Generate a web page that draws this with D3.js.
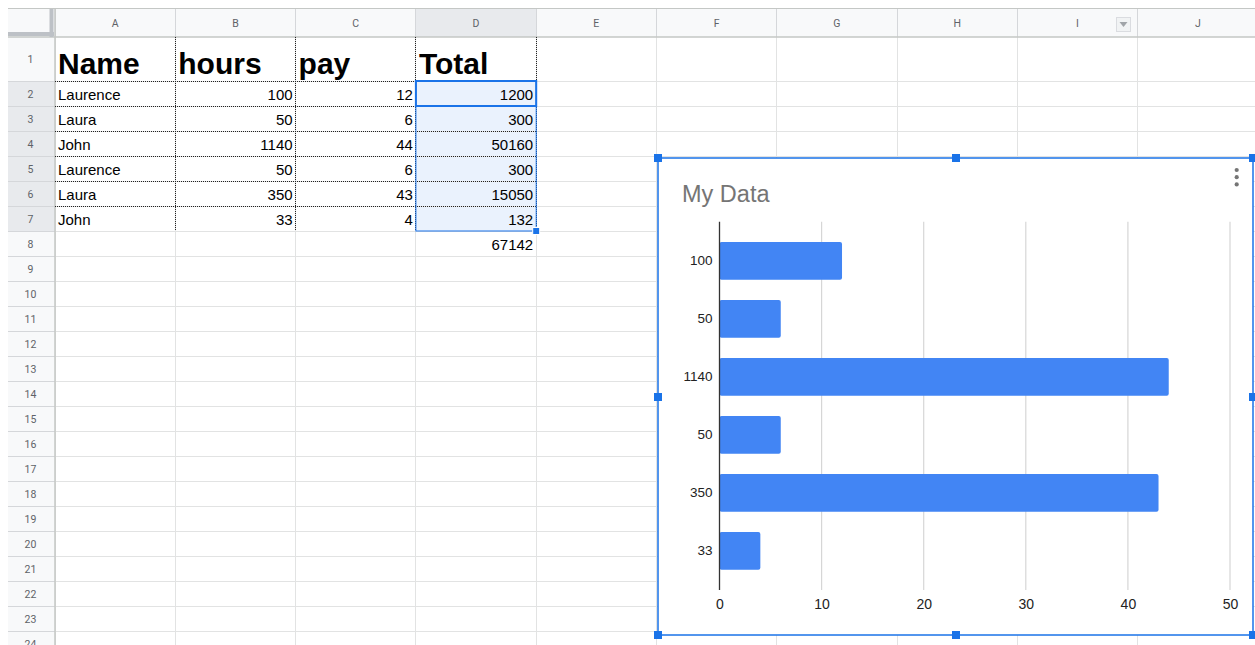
<!DOCTYPE html>
<html>
<head>
<meta charset="utf-8">
<script src="https://cdn.jsdelivr.net/npm/d3@7"></script>
<style>
  html, body { margin: 0; padding: 0; background: #fff; }
  svg { display: block; }
</style>
</head>
<body>
<svg id="c" width="1255" height="645"></svg>
<script>
// ---------- data ----------
const colLetters = ["A","B","C","D","E","F","G","H","I","J"];
const headers = ["Name","hours","pay","Total"];
const names = ["Laurence","Laura","John","Laurence","Laura","John"];
const hours = [100, 50, 1140, 50, 350, 33];
const pay = [12, 6, 44, 6, 43, 4];
const totals = [1200, 300, 50160, 300, 15050, 132];
const grandTotal = 67142;
const chartTitle = "My Data";
const xTicks = [0, 10, 20, 30, 40, 50];

// ---------- layout ----------
const W = 1255, H = 645;
const FONT = "'Liberation Sans', Arial, Helvetica, sans-serif";
const svg = d3.select("#c");

const gridLeft = 8, gridTop = 8, rowHeadRight = 55, headBottom = 37;
const colW = 120.3;
const colX = d3.scaleLinear().domain([0, 10]).range([rowHeadRight, rowHeadRight + 10 * colW]);
const rowTop = r => r === 1 ? headBottom : 81 + (r - 2) * 25;   // r = row number
const rowBottom = r => r === 1 ? 81 : rowTop(r) + 25;
const nRows = 24;

// backgrounds
svg.append("rect").attr("x", 0).attr("y", 0).attr("width", W).attr("height", H).attr("fill", "#fff");
svg.append("rect").attr("x", gridLeft).attr("y", gridTop).attr("width", W - gridLeft).attr("height", headBottom - gridTop).attr("fill", "#f8f9fa");
svg.append("rect").attr("x", gridLeft).attr("y", gridTop).attr("width", rowHeadRight - gridLeft).attr("height", H - gridTop).attr("fill", "#f8f9fa");
// selected column D header and rows 2-7 headers
svg.append("rect").attr("x", colX(3)).attr("y", gridTop).attr("width", colW).attr("height", headBottom - gridTop).attr("fill", "#e8eaed");
svg.append("rect").attr("x", gridLeft).attr("y", rowTop(2)).attr("width", rowHeadRight - gridLeft).attr("height", rowBottom(7) - rowTop(2)).attr("fill", "#e8eaed");

// selection fill
svg.append("rect").attr("x", colX(3)).attr("y", rowTop(2)).attr("width", colW).attr("height", rowBottom(7) - rowTop(2))
  .attr("fill", "rgba(26,115,232,0.09)");

// grid lines
const gl = svg.append("g").attr("stroke", "#e2e3e3").attr("stroke-width", 1).attr("shape-rendering", "crispEdges");
d3.range(0, 11).forEach(i => {
  gl.append("line").attr("x1", colX(i)).attr("x2", colX(i)).attr("y1", headBottom).attr("y2", H);
  gl.append("line").attr("x1", colX(i)).attr("x2", colX(i)).attr("y1", gridTop).attr("y2", headBottom).attr("stroke", "#d5d7da");
});
d3.range(1, nRows + 1).forEach(r => {
  gl.append("line").attr("x1", rowHeadRight).attr("x2", W).attr("y1", rowBottom(r)).attr("y2", rowBottom(r));
  gl.append("line").attr("x1", gridLeft).attr("x2", rowHeadRight).attr("y1", rowBottom(r)).attr("y2", rowBottom(r)).attr("stroke", "#d5d7da");
});
// header borders
svg.append("line").attr("x1", gridLeft).attr("x2", W).attr("y1", gridTop + 0.5).attr("y2", gridTop + 0.5).attr("stroke", "#c4c7c5");
svg.append("line").attr("x1", gridLeft).attr("x2", W).attr("y1", headBottom).attr("y2", headBottom).attr("stroke", "#c4c7c5").attr("stroke-width", 1.5);
svg.append("line").attr("x1", rowHeadRight).attr("x2", rowHeadRight).attr("y1", gridTop).attr("y2", H).attr("stroke", "#c4c7c5").attr("stroke-width", 1.5);
// frozen-corner bars
svg.append("rect").attr("x", gridLeft).attr("y", 32).attr("width", 46).attr("height", 4).attr("fill", "#bdc1c6");
svg.append("rect").attr("x", 49.5).attr("y", gridTop + 1).attr("width", 4).attr("height", 28).attr("fill", "#bdc1c6");

// column header letters
svg.append("g").selectAll("text").data(colLetters).join("text")
  .attr("x", (d, i) => colX(i) + colW / 2).attr("y", 26.5)
  .attr("text-anchor", "middle").attr("font-family", "Roboto, " + FONT).attr("font-size", 10.5)
  .attr("fill", "#5f6368").text(d => d);
// row numbers
svg.append("g").selectAll("text").data(d3.range(1, nRows + 1)).join("text")
  .attr("x", 30.5).attr("y", r => (rowTop(r) + rowBottom(r)) / 2 + 4)
  .attr("text-anchor", "middle").attr("font-family", "Roboto, " + FONT).attr("font-size", 10.5)
  .attr("fill", "#5f6368").text(r => r);

// filter icon on column I
const fi = svg.append("g");
fi.append("rect").attr("x", 1116.5).attr("y", 17.5).attr("width", 14).attr("height", 14).attr("fill", "#f1f3f4").attr("stroke", "#dadce0");
fi.append("path").attr("d", "M1119.5,22 L1127.5,22 L1123.5,27 Z").attr("fill", "#a0a4a8");

// dotted borders around A1:D7
const dot = svg.append("g").attr("stroke", "#222").attr("stroke-width", 1).attr("stroke-dasharray", "1,1").attr("shape-rendering", "crispEdges");
[1, 2, 3, 4].forEach(i => dot.append("line").attr("x1", colX(i)).attr("x2", colX(i)).attr("y1", rowTop(1)).attr("y2", rowBottom(7)));
d3.range(1, 7).forEach(r => dot.append("line").attr("x1", colX(0)).attr("x2", colX(4)).attr("y1", rowBottom(r)).attr("y2", rowBottom(r)));

// cell text
const cellFont = 15;
headers.forEach((h, i) => {
  svg.append("text").attr("x", colX(i) + 3).attr("y", rowTop(1) + 37)
    .attr("font-family", FONT).attr("font-weight", "bold").attr("font-size", 30).attr("fill", "#000").text(h);
});
const rowsG = svg.append("g").attr("font-family", FONT).attr("font-size", cellFont).attr("fill", "#000");
names.forEach((n, k) => {
  const r = k + 2, y = rowTop(r) + 19;
  rowsG.append("text").attr("x", colX(0) + 3).attr("y", y).text(n);
  rowsG.append("text").attr("x", colX(2) - 3).attr("y", y).attr("text-anchor", "end").text(hours[k]);
  rowsG.append("text").attr("x", colX(3) - 3).attr("y", y).attr("text-anchor", "end").text(pay[k]);
  rowsG.append("text").attr("x", colX(4) - 3).attr("y", y).attr("text-anchor", "end").text(totals[k]);
});
rowsG.append("text").attr("x", colX(4) - 3).attr("y", rowTop(8) + 19).attr("text-anchor", "end").text(grandTotal);

// selection borders
svg.append("rect").attr("x", colX(3)).attr("y", rowTop(2)).attr("width", colW).attr("height", rowBottom(7) - rowTop(2))
  .attr("fill", "none").attr("stroke", "#1a73e8").attr("stroke-width", 1);
svg.append("rect").attr("x", colX(3)).attr("y", rowTop(2)).attr("width", colW).attr("height", 25)
  .attr("fill", "none").attr("stroke", "#1a73e8").attr("stroke-width", 2);
svg.append("rect").attr("x", colX(4) - 3.5).attr("y", rowBottom(7) - 3.5).attr("width", 7).attr("height", 7)
  .attr("fill", "#1a73e8").attr("stroke", "#fff").attr("stroke-width", 1);

// ---------- chart ----------
const cf = { x0: 658, y0: 158, x1: 1253, y1: 635 };
svg.append("rect").attr("x", cf.x0).attr("y", cf.y0).attr("width", cf.x1 - cf.x0).attr("height", cf.y1 - cf.y0)
  .attr("fill", "#fff").attr("stroke", "#1a73e8").attr("stroke-width", 1.5);

const chart = svg.append("g");
chart.append("text").attr("x", 682).attr("y", 201.5).attr("font-family", FONT).attr("font-size", 23.5)
  .attr("fill", "#757575").text(chartTitle);
// kebab menu
chart.append("g").selectAll("circle").data([0, 1, 2]).join("circle")
  .attr("cx", 1236.7).attr("cy", d => 170 + d * 7.2).attr("r", 2.1).attr("fill", "#757575");

const x = d3.scaleLinear().domain([0, 50]).range([719.5, 1230]);
const y = d3.scaleBand().domain(d3.range(hours.length)).range([221.7, 590]).paddingInner(0.35).paddingOuter(0.35);
const plotTop = 221.7, plotBottom = 590;

// grid
chart.append("g").selectAll("line").data(xTicks.filter(t => t > 0)).join("line")
  .attr("x1", d => x(d)).attr("x2", d => x(d)).attr("y1", plotTop).attr("y2", plotBottom)
  .attr("stroke", "#d6d6d6").attr("stroke-width", 1.2);

// bars
chart.append("g").selectAll("rect").data(pay).join("rect")
  .attr("x", x(0)).attr("y", (d, i) => y(i)).attr("width", d => x(d) - x(0)).attr("height", y.bandwidth())
  .attr("rx", 2).attr("fill", "#4285f4");

// y axis
const yAxis = chart.append("g").attr("transform", `translate(${x(0)},0)`)
  .call(d3.axisLeft(y).tickFormat(i => hours[i]).tickSize(0).tickPadding(7));
yAxis.select(".domain").remove();
yAxis.selectAll("text").attr("font-family", FONT).attr("font-size", 13.5).attr("fill", "#222");
chart.append("line").attr("x1", x(0)).attr("x2", x(0)).attr("y1", plotTop).attr("y2", plotBottom).attr("stroke", "#333").attr("stroke-width", 1.3);

// x axis
const xAxis = chart.append("g").attr("transform", `translate(0,${plotBottom})`)
  .call(d3.axisBottom(x).tickValues(xTicks).tickSize(0));
xAxis.select(".domain").remove();
xAxis.selectAll("text").attr("y", 19).attr("dy", 0).attr("font-family", FONT).attr("font-size", 14).attr("fill", "#222");

// chart frame handles
const handles = [[cf.x0, cf.y0], [956, cf.y0], [cf.x1, cf.y0], [cf.x0, 397], [cf.x1, 397], [cf.x0, cf.y1], [956, cf.y1], [cf.x1, cf.y1]];
svg.append("g").selectAll("rect").data(handles).join("rect")
  .attr("x", d => d[0] - 4).attr("y", d => d[1] - 4).attr("width", 8).attr("height", 8)
  .attr("fill", "#1a73e8");
</script>
</body>
</html>
